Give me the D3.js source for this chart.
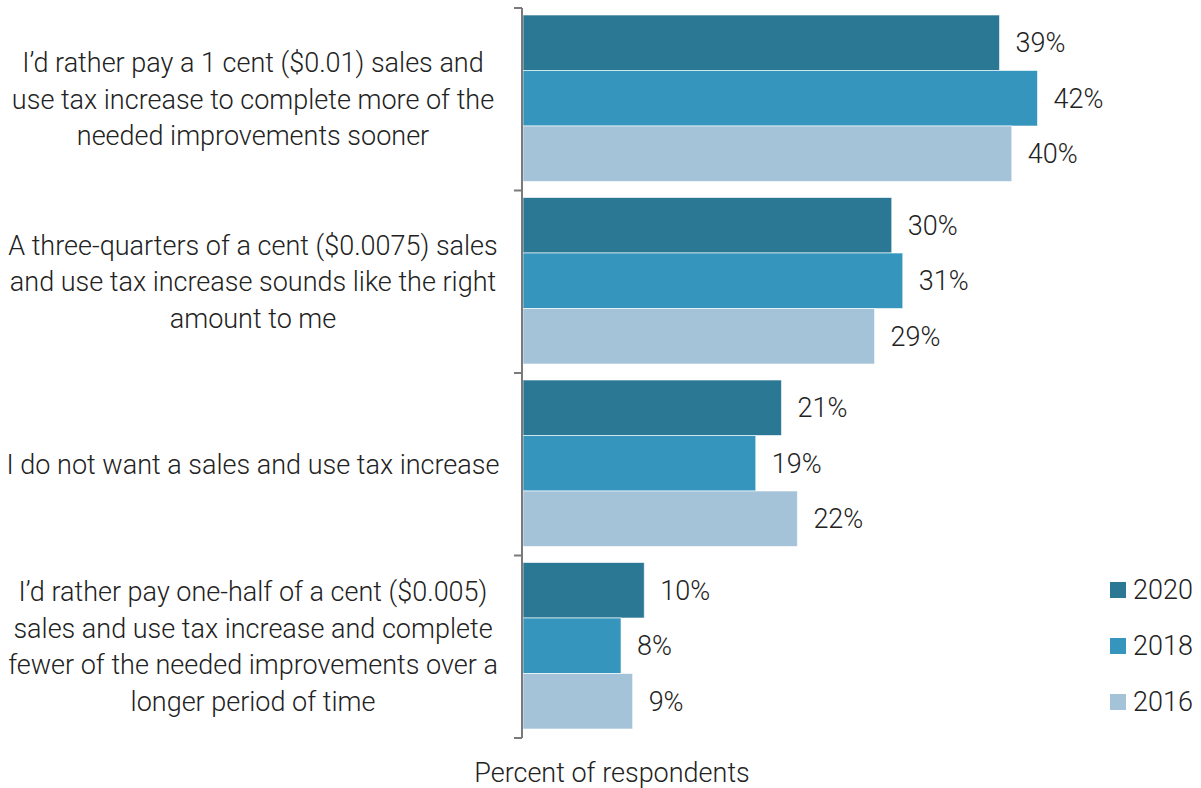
<!DOCTYPE html>
<html><head><meta charset="utf-8">
<script src="https://cdn.jsdelivr.net/npm/d3@7"></script>
<style>
body{margin:0;background:#fff;}
text{font-family:Roboto,"Noto Sans",sans-serif;font-weight:300;fill:#222;}
</style></head>
<body><svg id="chart" width="1201" height="788"></svg>
<script>
const categories = [
  ["I\u2019d rather pay a 1 cent ($0.01) sales and","use tax increase to complete more of the","needed improvements sooner"],
  ["A three-quarters of a cent ($0.0075) sales","and use tax increase sounds like the right","amount to me"],
  ["I do not want a sales and use tax increase"],
  ["I\u2019d rather pay one-half of a cent ($0.005)","sales and use tax increase and complete","fewer of the needed improvements over a","longer period of time"]
];
const seriesNames = ["2020","2018","2016"];
const values2020 = [38.9, 30.1, 21.1, 9.9];
const values2018 = [42.0, 31.0, 19.0, 8.0];
const values2016 = [39.9, 28.7, 22.4, 8.95];
const seriesColors = ["#2b7895","#3595bd","#a5c3d8"];
const axisTitle = "Percent of respondents";

const series = [values2020, values2018, values2016];
const svg = d3.select("#chart");
const x0 = 523;
const labelCenter = 253;
const x = d3.scaleLinear().domain([0, 55]).range([x0, x0 + 55*12.25]);
const idx = d3.range(categories.length);
const y = d3.scaleBand().domain(idx).range([8, 738]).padding(0);
const ySub = d3.scaleBand().domain(d3.range(seriesNames.length)).range([7, y.bandwidth()-9]).padding(0);
const fs = "27px";

const g = svg.append("g");
idx.forEach(i => {
  series.forEach((vals, s) => {
    const yy = y(i) + ySub(s);
    g.append("rect")
      .attr("x", x(0)).attr("y", yy)
      .attr("width", x(vals[i]) - x(0)).attr("height", ySub.bandwidth())
      .attr("fill", seriesColors[s])
      .attr("stroke", "rgba(255,255,255,0.6)").attr("stroke-width", 1);
    g.append("text")
      .attr("x", x(vals[i]) + 16).attr("y", yy + ySub.bandwidth()/2)
      .attr("dy", "0.35em").style("font-size", fs)
      .text(Math.round(vals[i]) + "%");
  });
  const lines = categories[i];
  const lh = 36.5;
  const cy = y(i) + y.bandwidth()/2;
  const t = svg.append("text").attr("text-anchor","middle").style("font-size",fs);
  lines.forEach((ln, k) => {
    t.append("tspan").attr("x", labelCenter)
      .attr("y", cy + (k - (lines.length-1)/2)*lh).attr("dy","0.35em").text(ln);
  });
});

// axis line and ticks
svg.append("line").attr("x1", x0-1).attr("x2", x0-1).attr("y1", y.range()[0]).attr("y2", y.range()[1])
  .attr("stroke","#7a7a7a").attr("stroke-width",2);
const edges = idx.map(i => y(i)).concat([y.range()[1]]);
svg.selectAll(".tick").data(edges).join("line")
  .attr("x1", x0-9).attr("x2", x0-1).attr("y1", d=>d).attr("y2", d=>d)
  .attr("stroke","#7a7a7a").attr("stroke-width",2);

// legend
const lg = svg.append("g");
seriesNames.forEach((n, s) => {
  const cy = 590 + s*56;
  lg.append("rect").attr("x",1110).attr("y",cy-8).attr("width",16).attr("height",16).attr("fill",seriesColors[s]);
  lg.append("text").attr("x",1133).attr("y",cy).attr("dy","0.35em").style("font-size",fs).text(n);
});

svg.append("text").attr("x",612).attr("y",773).attr("dy","0.35em").attr("text-anchor","middle")
  .style("font-size",fs).text(axisTitle);
</script></body></html>
